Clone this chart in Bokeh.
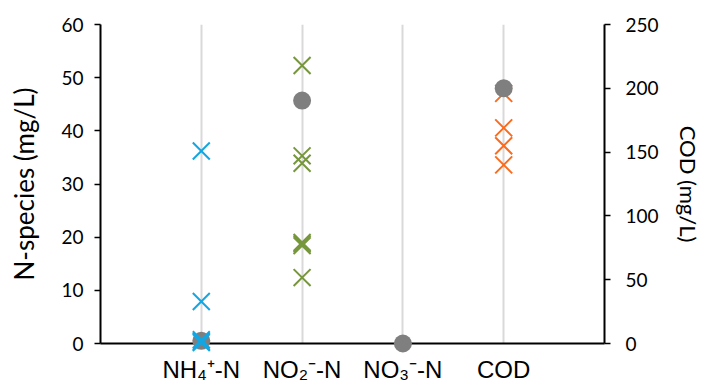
from bokeh.plotting import figure
from bokeh.models import Range1d, LinearAxis, FixedTicker
from bokeh.embed import file_html
from bokeh.resources import INLINE

# ---- data ----
categories = ["NH\u2084\u207a-N", "NO\u2082\u207b-N", "NO\u2083\u207b-N", "COD"]
cat_pos = [1, 2, 3, 4]

nh4_values = [36.2, 7.9, 0.7, 0.4, 0.2]
no2_values = [52.3, 35.3, 33.9, 19.0, 18.7, 18.4, 12.4]
cod_values = [196, 169, 155, 140]          # right axis (mg/L COD)

mean_n_pos = [1, 2, 3]
mean_n_values = [0.5, 45.7, 0.0]           # grey circles, left axis
mean_cod_values = [200]                    # grey circle, right axis

BLUE = "#13A6E3"
GREEN = "#77973D"
ORANGE = "#FB6C1E"
GREY = "#7F7F80"

p = figure(width=705, height=385, output_backend="svg", toolbar_location=None,
           x_range=Range1d(0, 5), y_range=Range1d(0, 60),
           min_border_left=100, min_border_right=101, min_border_top=24,
           min_border_bottom=42)
p.outline_line_color = None
p.background_fill_color = "white"
p.border_fill_color = "white"

p.extra_y_ranges = {"cod": Range1d(0, 250)}

# grid
p.ygrid.visible = False
p.xgrid.ticker = FixedTicker(ticks=cat_pos)
p.xgrid.grid_line_color = "#D9D9D9"
p.xgrid.grid_line_width = 2

# x axis
xa = p.xaxis[0]
xa.ticker = FixedTicker(ticks=cat_pos)
xa.major_label_overrides = {c: lab for c, lab in zip(cat_pos, categories)}
xa.major_tick_line_color = None
xa.minor_tick_line_color = None
xa.major_tick_out = 0
xa.major_tick_in = 0
xa.axis_line_color = "black"
xa.axis_line_width = 2
xa.major_label_text_font = "Liberation Sans"
xa.major_label_text_font_size = "24px"
xa.major_label_text_color = "black"
xa.major_label_standoff = 12

# left axis
ya = p.yaxis[0]
ya.ticker = FixedTicker(ticks=[0, 10, 20, 30, 40, 50, 60])
ya.minor_tick_line_color = None
ya.major_tick_in = 0
ya.major_tick_out = 6
ya.major_tick_line_color = "black"
ya.major_tick_line_width = 1.5
ya.axis_line_color = "black"
ya.axis_line_width = 2
ya.major_label_text_font = "Lato"
ya.major_label_text_font_size = "19px"
ya.major_label_text_color = "black"
ya.major_label_standoff = 11
ya.axis_label = "N-species (mg/L)"
ya.axis_label_text_font = "Lato"
ya.axis_label_text_font_size = "26px"
ya.axis_label_text_font_style = "normal"
ya.axis_label_text_color = "black"
ya.axis_label_standoff = 18

# right axis
ra = LinearAxis(y_range_name="cod")
ra.ticker = FixedTicker(ticks=[0, 50, 100, 150, 200, 250])
ra.minor_tick_line_color = None
ra.major_tick_in = 0
ra.major_tick_out = 6
ra.major_tick_line_color = "black"
ra.major_tick_line_width = 1.5
ra.axis_line_color = "black"
ra.axis_line_width = 2
ra.major_label_text_font = "Lato"
ra.major_label_text_font_size = "19px"
ra.major_label_text_color = "black"
ra.major_label_standoff = 15
ra.axis_label = "COD (mg/L)"
ra.axis_label_text_font = "Lato"
ra.axis_label_text_font_size = "22px"
ra.axis_label_text_font_style = "normal"
ra.axis_label_text_color = "black"
ra.axis_label_standoff = 13
p.add_layout(ra, "right")

# COD crosses (under the circle)
p.scatter([cat_pos[3]] * len(cod_values), cod_values, marker="x", size=24,
          line_color=ORANGE, line_width=2, y_range_name="cod")

# grey circles
p.scatter(mean_n_pos, mean_n_values, marker="circle", size=18,
          fill_color=GREY, line_color=None, level="overlay")
p.scatter([cat_pos[3]], mean_cod_values, marker="circle", size=18,
          fill_color=GREY, line_color=None, y_range_name="cod", level="overlay")

# N crosses
p.scatter([cat_pos[0]] * len(nh4_values), nh4_values, marker="x", size=24,
          line_color=BLUE, line_width=2, level="overlay")
p.scatter([cat_pos[1]] * len(no2_values), no2_values, marker="x", size=24,
          line_color=GREEN, line_width=2)

open("out.html", "w").write(file_html(p, INLINE))
